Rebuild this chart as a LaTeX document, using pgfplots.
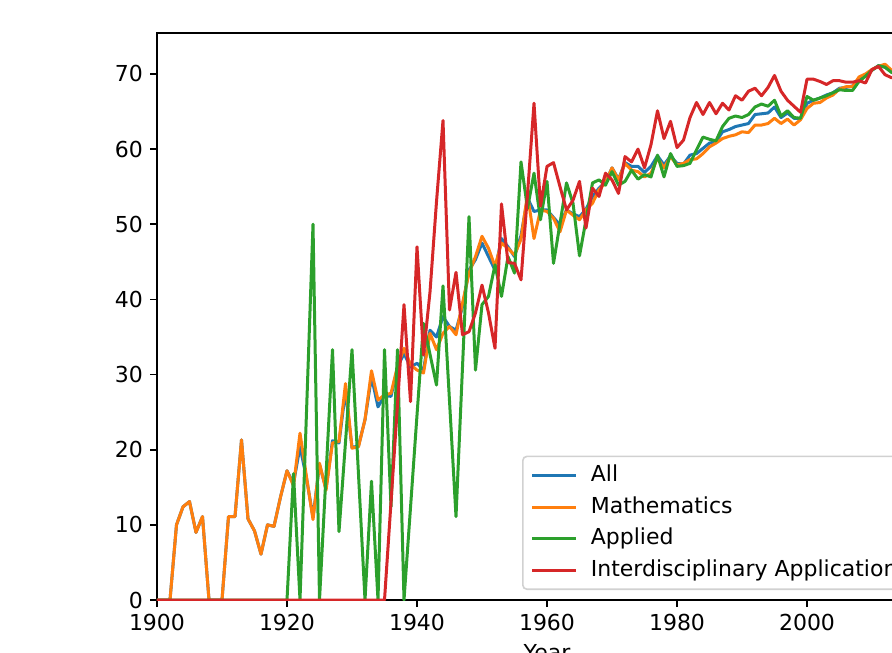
\documentclass[border=0pt]{standalone}
\usepackage{fontspec}
\setmainfont{DejaVu Sans}
\usepackage{pgfplots}
\usepackage{pgfplotstable}
\pgfplotsset{compat=1.18}
\definecolor{cA}{HTML}{1F77B4}
\definecolor{cM}{HTML}{FF7F0E}
\definecolor{cP}{HTML}{2CA02C}
\definecolor{cI}{HTML}{D62728}

\pgfplotstableread{
year v
1900 0
1901 0
1902 0
1903 10.0
1904 12.4
1905 13.1
1906 9.0
1907 11.1
1908 0
1909 0
1910 0
1911 11.1
1912 11.1
1913 21.3
1914 10.8
1915 9.2
1916 6.1
1917 10.0
1918 9.8
1919 13.7
1920 17.2
1921 15.5
1922 20.4
1923 16.2
1924 11.0
1925 18.0
1926 14.8
1927 21.2
1928 20.9
1929 27.8
1930 20.3
1931 20.5
1932 24.0
1933 29.7
1934 25.7
1935 27.2
1936 27.1
1937 31.0
1938 32.8
1939 31.0
1940 31.5
1941 30.6
1942 35.9
1943 35.0
1944 37.7
1945 36.4
1946 35.9
1947 39.0
1948 43.9
1949 45.3
1950 47.5
1951 45.7
1952 43.9
1953 48.1
1954 47.0
1955 45.7
1956 48.5
1957 53.5
1958 51.7
1959 51.9
1960 51.9
1961 50.9
1962 49.9
1963 51.9
1964 51.4
1965 51.0
1966 52.0
1967 53.7
1968 54.8
1969 55.6
1970 57.5
1971 56.0
1972 58.2
1973 57.7
1974 57.7
1975 56.9
1976 57.7
1977 59.1
1978 57.9
1979 59.1
1980 58.1
1981 58.0
1982 59.2
1983 59.4
1984 60.1
1985 60.8
1986 61.0
1987 62.3
1988 62.6
1989 63.0
1990 63.2
1991 63.4
1992 64.6
1993 64.7
1994 64.8
1995 65.6
1996 64.2
1997 64.8
1998 64.1
1999 64.1
2000 66.1
2001 66.5
2002 66.8
2003 67.2
2004 67.5
2005 68.1
2006 68.2
2007 68.4
2008 69.2
2009 69.7
2010 70.5
2011 71.1
2012 70.9
2013 70.3
2014 70.1
}\tblAll

\pgfplotstableread{
year v
1900 0
1901 0
1902 0
1903 10.0
1904 12.4
1905 13.1
1906 9.0
1907 11.1
1908 0
1909 0
1910 0
1911 11.1
1912 11.1
1913 21.3
1914 10.8
1915 9.2
1916 6.1
1917 10.0
1918 9.8
1919 13.7
1920 17.2
1921 15.2
1922 22.2
1923 16.4
1924 10.7
1925 18.2
1926 14.6
1927 20.9
1928 21.1
1929 28.8
1930 20.2
1931 20.4
1932 24.0
1933 30.5
1934 26.6
1935 27.3
1936 27.5
1937 31.1
1938 33.5
1939 31.3
1940 30.6
1941 30.2
1942 35.5
1943 33.3
1944 35.5
1945 36.4
1946 35.3
1947 39.5
1948 43.5
1949 45.7
1950 48.4
1951 46.8
1952 44.4
1953 47.5
1954 46.8
1955 45.9
1956 48.0
1957 54.0
1958 48.1
1959 51.9
1960 51.7
1961 50.8
1962 49.0
1963 51.9
1964 51.2
1965 50.6
1966 51.9
1967 52.8
1968 54.6
1969 55.5
1970 57.5
1971 55.9
1972 58.1
1973 57.2
1974 57.0
1975 56.3
1976 56.8
1977 58.8
1978 57.5
1979 59.0
1980 57.9
1981 58.1
1982 58.6
1983 58.7
1984 59.4
1985 60.3
1986 60.8
1987 61.4
1988 61.7
1989 61.9
1990 62.3
1991 62.2
1992 63.2
1993 63.2
1994 63.4
1995 64.1
1996 63.4
1997 64.0
1998 63.2
1999 63.9
2000 65.4
2001 66.1
2002 66.2
2003 66.8
2004 67.2
2005 68.0
2006 68.3
2007 68.3
2008 69.6
2009 70.0
2010 70.6
2011 71.0
2012 71.3
2013 70.5
2014 70.2
}\tblMath

\pgfplotstableread{
year v
1900 0
1901 0
1902 0
1903 0
1904 0
1905 0
1906 0
1907 0
1908 0
1909 0
1910 0
1911 0
1912 0
1913 0
1914 0
1915 0
1916 0
1917 0
1918 0
1919 0
1920 0
1921 16.8
1922 0
1923 25.0
1924 50.0
1925 0
1926 16.6
1927 33.3
1928 9.1
1929 21.0
1930 33.3
1931 16.7
1932 0
1933 15.8
1934 0
1935 33.3
1936 12.4
1937 33.3
1938 0
1939 12.3
1940 24.6
1941 36.8
1942 32.7
1943 28.6
1944 41.8
1945 26.5
1946 11.1
1947 31.0
1948 51.0
1949 30.6
1950 39.3
1951 40.4
1952 44.6
1953 40.4
1954 45.7
1955 43.5
1956 58.3
1957 52.1
1958 56.8
1959 50.6
1960 55.7
1961 44.8
1962 50.1
1963 55.5
1964 52.8
1965 45.8
1966 50.6
1967 55.5
1968 55.9
1969 55.2
1970 57.0
1971 55.2
1972 55.7
1973 57.2
1974 56.0
1975 56.6
1976 56.3
1977 59.2
1978 56.3
1979 59.4
1980 57.7
1981 57.8
1982 58.1
1983 59.9
1984 61.6
1985 61.3
1986 61.1
1987 63.0
1988 64.1
1989 64.4
1990 64.2
1991 64.6
1992 65.6
1993 66.0
1994 65.7
1995 66.5
1996 64.4
1997 65.1
1998 64.2
1999 64.1
2000 67.0
2001 66.5
2002 66.8
2003 67.1
2004 67.5
2005 67.9
2006 67.8
2007 67.8
2008 69.0
2009 69.7
2010 70.5
2011 71.1
2012 70.9
2013 70.2
2014 70.0
}\tblAppl

\pgfplotstableread{
year v
1900 0
1905 0
1910 0
1915 0
1920 0
1925 0
1930 0
1935 0
1936 13.0
1937 26.0
1938 39.3
1939 26.4
1940 47.0
1941 32.6
1942 41.0
1943 53.0
1944 63.8
1945 38.6
1946 43.6
1947 35.3
1948 35.7
1949 38.2
1950 41.9
1951 38.2
1952 33.5
1953 52.7
1954 44.9
1955 44.8
1956 42.6
1957 54.0
1958 66.1
1959 52.4
1960 57.7
1961 58.2
1962 55.0
1963 51.9
1964 53.2
1965 55.7
1966 49.5
1967 54.8
1968 53.7
1969 56.8
1970 55.9
1971 54.1
1972 59.0
1973 58.3
1974 60.0
1975 57.5
1976 60.6
1977 65.1
1978 61.4
1979 63.7
1980 60.2
1981 61.2
1982 64.2
1983 66.2
1984 64.6
1985 66.2
1986 64.7
1987 66.1
1988 65.2
1989 67.1
1990 66.5
1991 67.7
1992 68.1
1993 67.1
1994 68.2
1995 69.8
1996 67.7
1997 66.5
1998 65.7
1999 64.9
2000 69.3
2001 69.3
2002 69.0
2003 68.6
2004 69.1
2005 69.1
2006 68.9
2007 68.9
2008 69.1
2009 68.8
2010 70.6
2011 71.0
2012 69.9
2013 69.5
2014 69.5
}\tblInter

\begin{document}
\begin{tikzpicture}
\useasboundingbox (-78.5pt,-26pt) rectangle (367.5pt,300pt);
\clip (-78.5pt,-26pt) rectangle (367.5pt,300pt);
\begin{axis}[
  at={(0pt,0pt)}, anchor=south west,
  scale only axis, width=390pt, height=283.5pt,
  xmin=1900, xmax=2020, ymin=0, ymax=75.45,
  xtick={1900,1920,...,2020},
  ytick={0,10,...,70},
  xtick pos=bottom, ytick pos=left,
  tick align=outside,
  major tick length=3.5pt,
  every tick/.style={line width=0.8pt, black},
  axis line style={line width=0.8pt},
  /pgf/number format/assume math mode=true,
  /pgf/number format/1000 sep={},
  tick label style={font=\fontsize{11}{13}\selectfont},
  label style={font=\fontsize{11}{13}\selectfont},
  xlabel={Year},
  legend cell align=left,
  legend image code/.code={\draw[#1, line width=1.5pt] (0pt,0pt) -- (22pt,0pt);},
  legend style={
    at={(0.468,0.01764)}, anchor=south west,
    draw=black!18, line width=0.8pt, rounded corners=2pt,
    fill=white,
    font=\fontsize{11}{13}\selectfont,
    inner xsep=4pt, inner ysep=4pt,
    row sep=4.8pt, column sep=6.5pt,
    nodes={inner sep=0pt, text height=8.5pt, text depth=2.5pt},
  },
  every axis plot/.append style={line width=1.5pt, line join=round},
]
\addplot[cA] table[x=year,y=v] {\tblAll};
\addlegendentry{All}
\addplot[cM] table[x=year,y=v] {\tblMath};
\addlegendentry{Mathematics}
\addplot[cP] table[x=year,y=v] {\tblAppl};
\addlegendentry{Applied}
\addplot[cI] table[x=year,y=v] {\tblInter};
\addlegendentry{Interdisciplinary Applications}
\end{axis}
\end{tikzpicture}
\end{document}
